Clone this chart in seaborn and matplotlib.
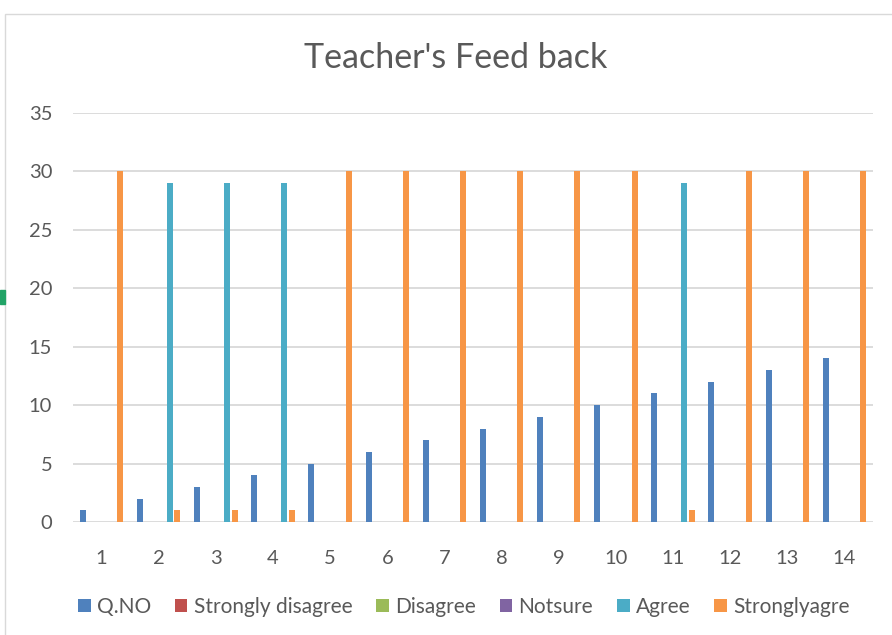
import pandas as pd
import seaborn as sns
import matplotlib.pyplot as plt
from matplotlib.patches import Rectangle

# chart data
questions = [str(i) for i in range(1, 15)]
q_no = [1, 2, 3, 4, 5, 6, 7, 8, 9, 10, 11, 12, 13, 14]
strongly_disagree = [0] * 14
disagree = [0] * 14
notsure = [0] * 14
agree = [0, 29, 29, 29, 0, 0, 0, 0, 0, 0, 29, 0, 0, 0]
strongly_agree = [30, 1, 1, 1, 30, 30, 30, 30, 30, 30, 1, 30, 30, 30]

series_names = ["Q.NO", "Strongly disagree", "Disagree", "Notsure", "Agree", "Stronglyagre"]
series_values = [q_no, strongly_disagree, disagree, notsure, agree, strongly_agree]
colors = ["#4F81BD", "#C0504D", "#9BBB59", "#8064A2", "#4BACC6", "#F79646"]

rows = []
for name, vals in zip(series_names, series_values):
    for q, v in zip(questions, vals):
        rows.append({"question": q, "series": name, "value": v})
df = pd.DataFrame(rows)

sns.set_style("white")
plt.rcParams["font.family"] = ["Lato", "DejaVu Sans"]

fig = plt.figure(figsize=(8.92, 6.35), dpi=100)
ax = fig.add_axes([73 / 892, 1 - 522 / 635, 800 / 892, 409 / 635])

sns.barplot(data=df, x="question", y="value", hue="series", hue_order=series_names,
            order=questions, palette=colors, width=0.784, gap=0.2, saturation=1,
            edgecolor="none", ax=ax)

ax.set_xlim(-0.5, 13.5)
ax.set_ylim(0, 35)
ax.set_yticks(range(0, 36, 5))
ax.yaxis.grid(True, color="#D9D9D9", linewidth=1.3)
ax.set_axisbelow(True)
for s in ax.spines.values():
    s.set_visible(False)
ax.tick_params(axis="both", length=0, labelsize=14.5, colors="#595959")
ax.tick_params(axis="x", pad=20)
ax.tick_params(axis="y", pad=15)
ax.set_xlabel("")
ax.set_ylabel("")

fig.text(456 / 892, 1 - 58 / 635, "Teacher's Feed back", ha="center", va="center",
         fontsize=24.5, color="#595959")

handles, labels = ax.get_legend_handles_labels()
ax.legend_.remove()
fig.legend(handles, labels, loc="center", bbox_to_anchor=(0.52, 1 - 607 / 635),
           ncol=6, frameon=False, fontsize=15, labelcolor="#595959",
           handlelength=0.6, handleheight=0.6, handletextpad=0.3, columnspacing=1.15)

# chart frame and selection mark from the screenshot
fig.patches.append(Rectangle((5 / 892, -0.1), 1.2, 1 - 14 / 635 + 0.1,
                             transform=fig.transFigure, fill=False,
                             edgecolor="#D9D9D9", linewidth=1))
fig.patches.append(Rectangle((0, 1 - 304 / 635), 5 / 892, 14 / 635,
                             transform=fig.transFigure, color="#21A366"))

fig.savefig("out.png", dpi=100)
